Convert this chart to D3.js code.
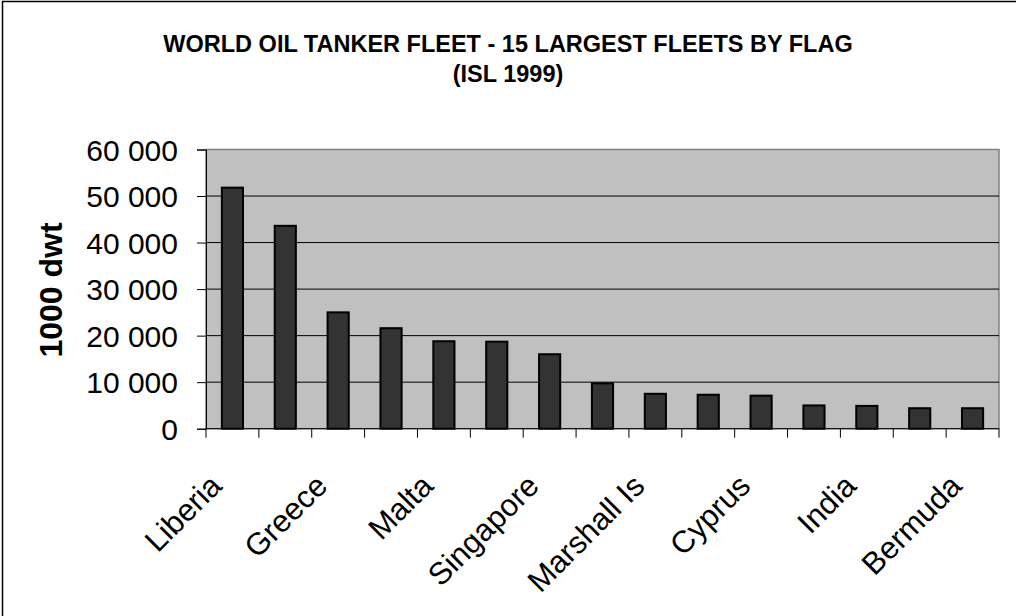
<!DOCTYPE html>
<html>
<head>
<meta charset="utf-8">
<script src="https://cdn.jsdelivr.net/npm/d3@7"></script>
<style>
  html, body { margin: 0; padding: 0; background: #fff; }
  svg { display: block; font-family: 'Liberation Sans', Arial, sans-serif; }
</style>
</head>
<body>
<script>
'use strict'

// ISL 1999, 1000 dwt per flag
var flags = ['Liberia', 'Panama', 'Greece', 'Bahamas', 'Malta', 'Norway', 'Singapore',
  'Hong Kong', 'Marshall Is', 'Japan', 'Cyprus', 'USA', 'India', 'China', 'Bermuda']
var dwt = [51800, 43600, 25000, 21600, 18800, 18700, 16000,
  9750, 7500, 7300, 7100, 5000, 4900, 4400, 4400]
var yTicks = [0, 10000, 20000, 30000, 40000, 50000, 60000]
var titleLines = ['WORLD OIL TANKER FLEET - 15 LARGEST FLEETS BY FLAG', '(ISL 1999)']

var W = 1016
var H = 616
var plot = { left: 206, right: 999, top: 149.5, bottom: 428.7 }

var svg = d3.select('body').append('svg')
  .attr('width', W)
  .attr('height', H)

// outer chart frame (right/bottom edges fall off the picture)
svg.append('rect')
  .attr('x', 2.5).attr('y', 1.5)
  .attr('width', W + 20).attr('height', H + 20)
  .style('fill', 'none')
  .style('stroke', '#000')
  .style('stroke-width', '1.5px')

var x = d3.scaleBand()
  .domain(flags)
  .range([plot.left, plot.right])
  .paddingInner(0.6)
  .paddingOuter(0.3)

var y = d3.scaleLinear()
  .domain([0, 60000])
  .range([plot.bottom, plot.top])

var fmt = function (v) { return d3.format(',')(v).replace(/,/g, ' ') }

// title
svg.append('g').selectAll('text')
  .data(titleLines)
  .enter().append('text')
  .attr('x', 508)
  .attr('y', function (d, i) { return 52 + i * 30 })
  .attr('text-anchor', 'middle')
  .style('font-size', '23.5px')
  .style('font-weight', 'bold')
  .text(function (d) { return d })

// plot area
svg.append('rect')
  .attr('x', plot.left).attr('y', plot.top)
  .attr('width', plot.right - plot.left)
  .attr('height', plot.bottom - plot.top)
  .style('fill', '#c0c0c0')
  .style('stroke', '#808080')
  .style('stroke-width', '1.5px')

// gridlines
svg.append('g').selectAll('line')
  .data(yTicks.filter(function (d) { return d > 0 && d < 60000 }))
  .enter().append('line')
  .attr('x1', plot.left).attr('x2', plot.right)
  .attr('y1', function (d) { return y(d) })
  .attr('y2', function (d) { return y(d) })
  .style('stroke', '#000')
  .style('stroke-width', '1px')

// bars
svg.append('g').selectAll('rect')
  .data(flags)
  .enter().append('rect')
  .attr('x', function (d) { return x(d) })
  .attr('y', function (d, i) { return y(dwt[i]) })
  .attr('width', x.bandwidth())
  .attr('height', function (d, i) { return y(0) - y(dwt[i]) })
  .style('fill', '#333333')
  .style('stroke', '#000')
  .style('stroke-width', '2px')

// y axis
var yAxis = d3.axisLeft(y)
  .tickValues(yTicks)
  .tickSize(9)
  .tickPadding(19)
  .tickFormat(fmt)
var gy = svg.append('g')
  .attr('transform', 'translate(' + plot.left + ',0)')
  .call(yAxis)
gy.select('.domain').style('stroke', '#000').style('stroke-width', '1px')
gy.selectAll('.tick line').style('stroke', '#000')
gy.selectAll('.tick text')
  .attr('dy', '0.36em')
  .style('font-size', '30px')
  .style('fill', '#000')
  .style('font-family', "'Liberation Sans', Arial, sans-serif")

// x axis: ticks between categories
var step = x.step()
var bounds = d3.range(flags.length + 1).map(function (i) { return plot.left + i * step })
svg.append('line')
  .attr('x1', plot.left).attr('x2', plot.right)
  .attr('y1', plot.bottom).attr('y2', plot.bottom)
  .style('stroke', '#000')
  .style('stroke-width', '1px')
svg.append('g').selectAll('line')
  .data(bounds)
  .enter().append('line')
  .attr('x1', function (d) { return d })
  .attr('x2', function (d) { return d })
  .attr('y1', plot.bottom)
  .attr('y2', plot.bottom + 9)
  .style('stroke', '#000')
  .style('stroke-width', '1px')

// x labels, every other category
svg.append('g').selectAll('text')
  .data(flags.filter(function (d, i) { return i % 2 === 0 }))
  .enter().append('text')
  .attr('transform', function (d) {
    var cx = x(d) + x.bandwidth() / 2 - 9
    return 'translate(' + cx + ',' + (plot.bottom + 59) + ') rotate(-45)'
  })
  .attr('text-anchor', 'end')
  .style('font-size', '31px')
  .text(function (d) { return d })

// y axis title
svg.append('text')
  .attr('transform', 'translate(62,290) rotate(-90)')
  .attr('text-anchor', 'middle')
  .style('font-size', '32px')
  .style('font-weight', 'bold')
  .text('1000 dwt')
</script>
</body>
</html>
